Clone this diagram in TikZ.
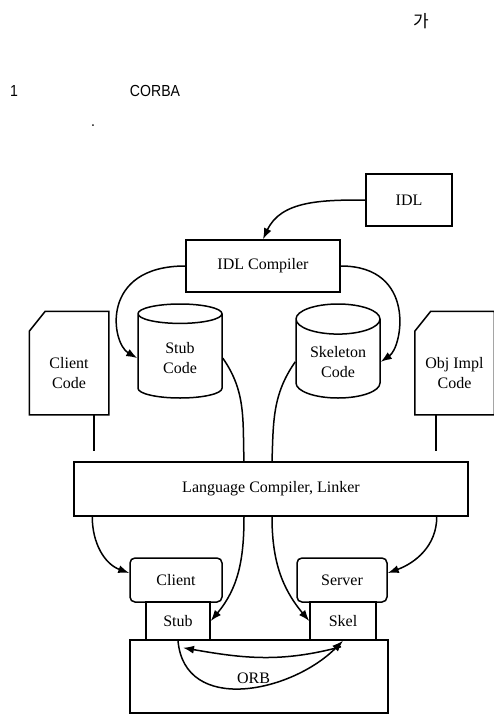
\documentclass[tikz,border=0pt]{standalone}
\usepackage{fontspec}
\setmainfont{Liberation Serif}
\newfontfamily\hangulfont{Noto Sans CJK KR}
\newfontfamily\narrowsans[FakeStretch=0.88]{Liberation Sans}
\usetikzlibrary{
  arrows.meta,
  shapes.geometric,
  calc
}

\begin{document}
\begin{tikzpicture}[x=1pt, y=-1pt, line width=1.5pt,
  font=\fontsize{16}{20}\selectfont,
  box/.style={draw, rectangle, inner sep=2pt},
  store/.style={draw, cylinder, shape border rotate=90, aspect=0.48,
    minimum width=84pt, minimum height=94pt, align=center, anchor=shape center},
  doc/.style={rectangle, minimum width=78pt, minimum height=82pt, align=center},
  unit/.style={draw, rounded corners=5pt, minimum height=44pt},
  arr/.style={-{Latex[length=11pt, width=8pt]}},
  note/.style={font=\narrowsans\fontsize{16}{20}\selectfont}]
  \useasboundingbox (0,0) rectangle (494,718);

  % text above the figure
  \node[font=\hangulfont\fontsize{17}{20}\selectfont] (ga) at (421,21) {가};
  \node[note] (num) at (14,91) {1};
  \node[note] (corba) at (155,91) {CORBA};
  \node[note] (dot) at (93,126) {.};

  % build chain
  \node[box, minimum width=86pt, minimum height=52pt] (idl) at (409,200) {IDL};
  \node[box, minimum width=154pt, minimum height=52pt] (idlc) at (263,266) {IDL Compiler};
  \node[store] (stubcode) at (180,351) {Stub\\Code};
  \node[store] (skelcode) at (338,351) {Skeleton\\Code};
  \node[doc] (clientcode) at (69,373) {Client\\Code};
  \node[doc] (implcode) at (454.5,373) {Obj Impl\\Code};
  \foreach \d in {clientcode,implcode}
    \draw (\d.north west) -- ([shift={(16pt,20pt)}]\d.north west)
      -- ([yshift=20pt]\d.north east) -- (\d.south east) -- (\d.south west) -- cycle;
  \node[box, minimum width=394pt, minimum height=54pt] (linker) at (271,489)
    {Language Compiler, Linker};

  % runtime
  \node[unit, minimum width=92pt] (client) at (176,580) {Client};
  \node[unit, minimum width=90pt] (server) at (342,580) {Server};
  \node[box, minimum width=258pt, minimum height=73pt] (orb) at (259,676.5) {};
  \node[box, minimum width=64pt, minimum height=38pt] (stub) at (178,621) {Stub};
  \node[box, minimum width=66pt, minimum height=38pt] (skel) at (343,621) {Skel};

  \draw[arr] (idl.west) to[out=180, in=65] (idlc.north);
  \draw[arr] (idlc.west) .. controls +(-86,0) and +(-26,-15) .. (stubcode.west);
  \draw[arr] (idlc.east) .. controls +(76,0) and +(22,-15) .. (skelcode.east);

  \coordinate (clientlink) at (94,451);
  \coordinate (impllink) at (436,451);
  \draw (clientlink |- clientcode.south) -- (clientlink);
  \draw (impllink |- implcode.south) -- (impllink);

  \draw (stubcode.east) to[out=-55, in=92] ([xshift=-27pt]linker.north);
  \draw (skelcode.west) to[out=235, in=88] ([xshift=1pt]linker.north);
  \draw[arr] ([xshift=-27pt]linker.south) to[out=-90, in=50] (stub.east);
  \draw[arr] ([xshift=1pt]linker.south) to[out=-90, in=130] (skel.west);
  \draw[arr] ([xshift=19pt]linker.south west) to[out=-90, in=160] ([yshift=7pt]client.west);
  \draw[arr] ([xshift=-32pt]linker.south east) to[out=-90, in=20] ([yshift=7pt]server.east);

  \draw[arr] (stub.south) to[out=-85, in=-135, looseness=1.15]
    node[pos=0.55, anchor=south, inner sep=2.5pt] {ORB} (skel.south);
  \draw[arr] ([xshift=-2pt, yshift=-6pt]skel.south) to[out=195, in=-10]
    ([xshift=5pt, yshift=-7pt]stub.south);
\end{tikzpicture}
\end{document}
